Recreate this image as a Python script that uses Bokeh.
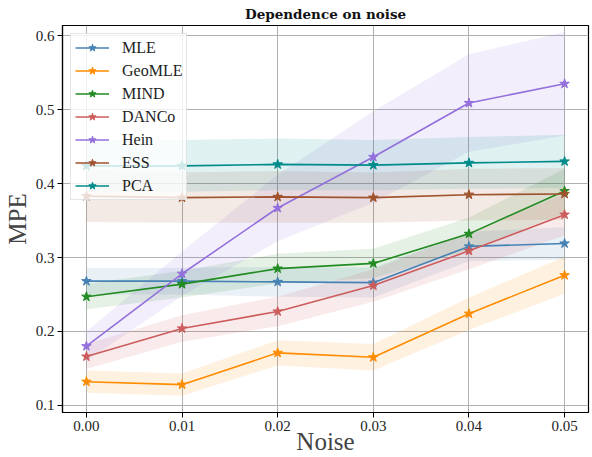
from bokeh.plotting import figure
from bokeh.embed import file_html
from bokeh.resources import INLINE
from bokeh.models import Range1d, FixedTicker, Legend

noise = [0.00, 0.01, 0.02, 0.03, 0.04, 0.05]
x_ticks = [0.00, 0.01, 0.02, 0.03, 0.04, 0.05]
y_ticks = [0.1, 0.2, 0.3, 0.4, 0.5, 0.6]

methods = ["MLE", "GeoMLE", "MIND", "DANCo", "Hein", "ESS", "PCA"]
colors = ["#4682b4", "#ff8c00", "#228b22", "#cd5c5c", "#9370db", "#a0522d", "#008b8b"]

mle = [0.268, 0.268, 0.267, 0.266, 0.315, 0.319]
geomle = [0.132, 0.128, 0.171, 0.165, 0.224, 0.276]
mind = [0.247, 0.264, 0.285, 0.292, 0.332, 0.390]
danco = [0.166, 0.204, 0.227, 0.262, 0.309, 0.358]
hein = [0.180, 0.278, 0.367, 0.436, 0.509, 0.535]
ess = [0.383, 0.381, 0.382, 0.381, 0.385, 0.386]
pca = [0.424, 0.424, 0.426, 0.425, 0.428, 0.430]

mle_std = [0.018, 0.018, 0.020, 0.020, 0.020, 0.022]
geomle_std = [0.015, 0.015, 0.017, 0.018, 0.022, 0.025]
mind_std = [0.017, 0.018, 0.020, 0.020, 0.022, 0.030]
danco_std = [0.017, 0.018, 0.020, 0.022, 0.025, 0.028]
hein_std = [0.020, 0.030, 0.045, 0.062, 0.066, 0.070]
ess_std = [0.035, 0.034, 0.035, 0.034, 0.035, 0.035]
pca_std = [0.035, 0.035, 0.035, 0.034, 0.035, 0.036]

means = [mle, geomle, mind, danco, hein, ess, pca]
stds = [mle_std, geomle_std, mind_std, danco_std, hein_std, ess_std, pca_std]

SERIF = "Liberation Serif"

p = figure(width=592, height=457, output_backend="svg", toolbar_location=None,
           x_range=Range1d(-0.0025, 0.0525), y_range=Range1d(0.0903, 0.6139),
           title="Dependence on noise")
p.min_border_left = 62
p.min_border_right = 4
p.min_border_top = 25
p.min_border_bottom = 44

p.title.text_font = "DejaVu Serif"
p.title.text_font_size = "13.5px"
p.title.text_font_style = "bold"
p.title.text_color = "#111111"
p.title.align = "center"
p.title.standoff = 7
p.title.offset = 0

p.outline_line_color = "black"
p.outline_line_width = 1.2
p.background_fill_color = "white"
p.border_fill_color = "white"

for ax in (p.xaxis[0], p.yaxis[0]):
    ax.axis_line_color = "black"
    ax.axis_line_width = 1.2
    ax.major_tick_line_color = "black"
    ax.major_tick_out = 5
    ax.major_tick_in = 0
    ax.minor_tick_line_color = None
    ax.major_label_text_font = SERIF
    ax.major_label_text_font_size = "15px"
    ax.major_label_text_color = "#222222"
    ax.axis_label_text_font = SERIF
    ax.axis_label_text_font_style = "normal"
    ax.axis_label_text_font_size = "25px"
    ax.major_label_standoff = 3

p.yaxis.axis_label_standoff = 2
p.xaxis.axis_label_standoff = -6
p.xaxis.axis_label_text_line_height = 0.8
p.xaxis.major_label_text_line_height = 0.9

p.xaxis.ticker = FixedTicker(ticks=x_ticks)
p.yaxis.ticker = FixedTicker(ticks=y_ticks)
p.xaxis.major_label_overrides = {t: f"{t:.2f}" for t in x_ticks}
p.yaxis.major_label_overrides = {t: f"{t:.1f}" for t in y_ticks}
p.xaxis.axis_label = "Noise"
p.yaxis.axis_label = "MPE"

p.xgrid.ticker = FixedTicker(ticks=x_ticks)
p.ygrid.ticker = FixedTicker(ticks=y_ticks)
p.grid.grid_line_color = "#b0b0b0"
p.grid.grid_line_width = 1

items = []
for name, col, m, s in zip(methods, colors, means, stds):
    lo = [a - b for a, b in zip(m, s)]
    hi = [a + b for a, b in zip(m, s)]
    p.varea(x=noise, y1=lo, y2=hi, fill_color=col, fill_alpha=0.12)

for name, col, m, s in zip(methods, colors, means, stds):
    r1 = p.line(noise, m, line_color=col, line_width=1.6)
    r2 = p.scatter(noise, m, marker="star", size=10, fill_color=col, line_color=col)
    items.append((name, [r1, r2]))

legend = Legend(items=items, location="top_left")
legend.label_text_font = SERIF
legend.label_text_font_size = "16px"
legend.label_text_color = "#222222"
legend.glyph_width = 34
legend.glyph_height = 19
legend.label_height = 19
legend.spacing = 4
legend.padding = 4
legend.margin = 8
legend.label_standoff = 13
legend.border_line_color = "#cccccc"
legend.border_line_width = 1
legend.background_fill_color = "white"
legend.background_fill_alpha = 0.8
p.add_layout(legend)

open("out.html", "w").write(file_html(p, INLINE))
